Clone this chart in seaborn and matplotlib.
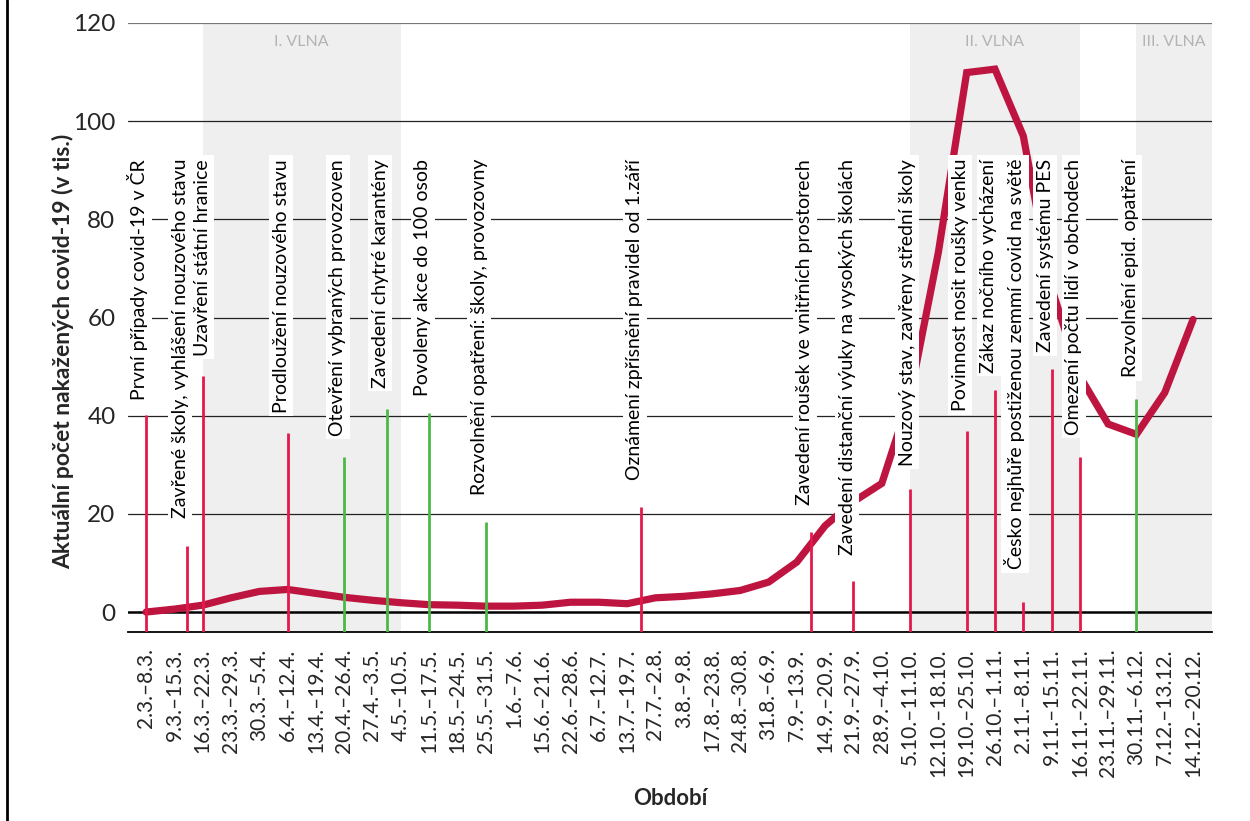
import matplotlib
matplotlib.use("Agg")
import matplotlib.pyplot as plt
from matplotlib.lines import Line2D
import seaborn as sns
import pandas as pd

# weekly periods (x axis)
periods = ["2.3.–8.3.", "9.3.–15.3.", "16.3.–22.3.", "23.3.–29.3.", "30.3.–5.4.",
           "6.4.–12.4.", "13.4.–19.4.", "20.4.–26.4.", "27.4.–3.5.", "4.5.–10.5.",
           "11.5.–17.5.", "18.5.–24.5.", "25.5.–31.5.", "1.6.–7.6.", "15.6.–21.6.",
           "22.6.–28.6.", "6.7.–12.7.", "13.7.–19.7.", "27.7.–2.8.", "3.8.–9.8.",
           "17.8.–23.8.", "24.8.–30.8.", "31.8.–6.9.", "7.9.–13.9.", "14.9.–20.9.",
           "21.9.–27.9.", "28.9.–4.10.", "5.10.–11.10.", "12.10.–18.10.", "19.10.–25.10.",
           "26.10.–1.11.", "2.11.–8.11.", "9.11.–15.11.", "16.11.–22.11.", "23.11.–29.11.",
           "30.11.–6.12.", "7.12.–13.12.", "14.12.–20.12."]

# active cases (thousands)
cases = [0.0, 0.6, 1.4, 2.9, 4.2, 4.6, 3.8, 3.0, 2.4, 1.9,
         1.5, 1.4, 1.2, 1.2, 1.4, 2.0, 2.0, 1.7, 2.9, 3.2,
         3.7, 4.4, 6.1, 10.2, 17.6, 22.5, 26.2, 44.0, 73.3, 109.9,
         110.6, 97.0, 66.0, 48.0, 38.3, 36.2, 44.7, 59.6]

# events: label, position (in weeks from 2.3.), marker height, type
event_labels = ["První případy covid-19 v ČR",
                "Zavřené školy, vyhlášení nouzového stavu",
                "Uzavření státní hranice",
                "Prodloužení nouzového stavu",
                "Otevření vybraných provozoven",
                "Zavedení chytré karantény",
                "Povoleny akce do 100 osob",
                "Rozvolnění opatření: školy, provozovny",
                "Oznámení zpřísnění pravidel od 1.září",
                "Zavedení roušek ve vnitřních prostorech",
                "Zavedení distanční výuky na vysokých školách",
                "Nouzový stav, zavřeny střední školy",
                "Povinnost nosit roušky venku",
                "Zákaz nočního vycházení",
                "Česko nejhůře postiženou zemmí covid na světě",
                "Zavedení systému PES",
                "Omezení počtu lidí v obchodech",
                "Rozvolnění epid. opatření"]
event_pos = [0, 1.43, 2, 5, 7, 8.5, 10, 12, 17.5, 23.5, 25, 27, 29, 30, 31, 32, 33, 35]
event_top = [40.1, 13.4, 48.1, 36.4, 31.5, 41.3, 40.5, 18.4, 21.3, 16.3,
             6.3, 25.1, 36.9, 45.3, 2.1, 49.6, 31.5, 43.5]
event_kind = ["tighten", "tighten", "tighten", "tighten", "ease", "ease", "ease", "ease",
              "tighten", "tighten", "tighten", "tighten", "tighten", "tighten", "tighten",
              "tighten", "tighten", "ease"]

# epidemic waves
wave_names = ["I. VLNA", "II. VLNA", "III. VLNA"]
wave_start = [2, 27, 35]
wave_end = [9, 33, 37.67]

df = pd.DataFrame({"pos": range(len(periods)), "cases": cases})

sns.set_style("white")
plt.rcParams["font.family"] = ["Lato", "DejaVu Sans"]

fig = plt.figure(figsize=(12.5, 8.21), dpi=100)
ax = fig.add_axes([0.1024, 0.2306, 0.9696 - 0.1024, 0.972 - 0.2306])

x_min, x_max = -0.64, 37.67
y_min, y_max = -4, 120

# wave shading
for name, s, e in zip(wave_names, wave_start, wave_end):
    ax.axvspan(s, e, color="#efefef", zorder=0, lw=0)
    ax.text((s + e) / 2, 116.2, name, ha="center", va="center",
            fontsize=11.5, color="#b3b3b3", zorder=1)

# grid
for v in [20, 40, 60, 80, 100]:
    ax.axhline(v, color="#222222", lw=0.9, zorder=1)
ax.axhline(120, color="#777777", lw=1.6, zorder=1)
ax.axhline(0, color="black", lw=1.8, zorder=1)

sns.lineplot(data=df, x="pos", y="cases", color="#be1540", lw=5.2, ax=ax,
             zorder=2, solid_joinstyle="miter")

colors = {"tighten": "#e5184b", "ease": "#4cb848"}
nudge = {"Uzavření státní hranice": 0.2, "Nouzový stav, zavřeny střední školy": 0.12}
for lab, p, top, kind in zip(event_labels, event_pos, event_top, event_kind):
    ax.vlines(p, y_min, top, color=colors[kind], lw=2, zorder=3)
    ax.text(p + nudge.get(lab, 0) - 0.03, 92.3, lab, rotation=90,
            rotation_mode="anchor", ha="right", va="baseline",
            fontsize=14, color="black", zorder=4,
            bbox=dict(facecolor="white", edgecolor="none", pad=2.5))

ax.set_xlim(x_min, x_max)
ax.set_ylim(y_min, y_max)
ax.set_xticks(range(len(periods)))
ax.set_xticklabels(periods, rotation=90, fontsize=15)
ax.set_yticks([0, 20, 40, 60, 80, 100, 120])
ax.tick_params(axis="y", length=0, pad=9, labelsize=17.5)
ax.tick_params(axis="x", length=7, width=1.4, color="#555555", pad=5, direction="out")
for side in ["top", "right", "left"]:
    ax.spines[side].set_visible(False)
ax.spines["bottom"].set_color("black")
ax.spines["bottom"].set_linewidth(1.3)

ax.set_xlabel("Období", fontsize=16, fontweight="bold", labelpad=8)
ax.set_ylabel("Aktuální počet nakažených covid-19 (v tis.)", fontsize=16.5,
              fontweight="bold")
ax.yaxis.set_label_coords(-0.05, 0.46)

fig.add_artist(Line2D([0.0055, 0.0055], [0, 1], transform=fig.transFigure,
                      color="black", lw=2))

fig.savefig("out.png", dpi=100)
